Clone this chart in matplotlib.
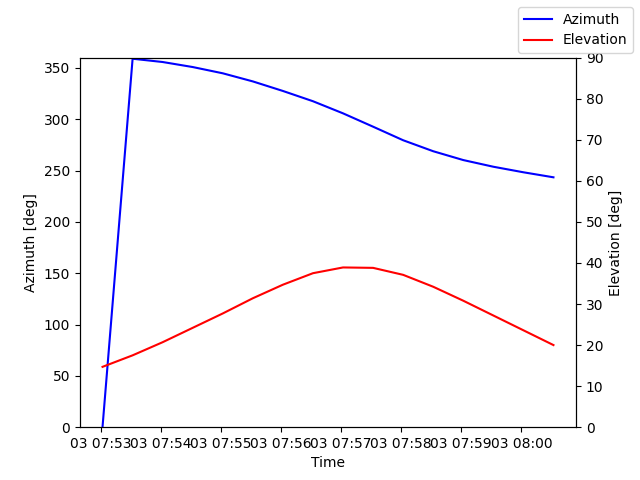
import matplotlib
matplotlib.use("Agg")
import matplotlib.pyplot as plt
import numpy as np
import pandas as pd

times = pd.date_range("2023-01-03 07:53:02", periods=16, freq="30s")
azimuth = [0.5, 358.9, 355.7, 350.8, 344.7, 336.8, 327.5, 317.5, 305.7,
           292.7, 279.5, 268.8, 260.2, 253.7, 248.3, 243.4]
elevation = [14.7, 17.5, 20.7, 24.2, 27.7, 31.4, 34.7, 37.5, 38.9,
             38.8, 37.1, 34.2, 30.8, 27.2, 23.6, 20.0]

fig, ax = plt.subplots(figsize=(6.4, 4.8), dpi=100)
l1, = ax.plot(times, azimuth, color="blue", label="Azimuth")
ax.set_ylim(0, 360)
ax.set_xlabel("Time")
ax.set_ylabel("Azimuth [deg]")
ax2 = ax.twinx()
l2, = ax2.plot(times, elevation, color="red", label="Elevation")
ax2.set_ylim(0, 90)
ax2.set_ylabel("Elevation [deg]")
fig.legend(handles=[l1, l2], loc="upper right")
fig.savefig("out.png")
